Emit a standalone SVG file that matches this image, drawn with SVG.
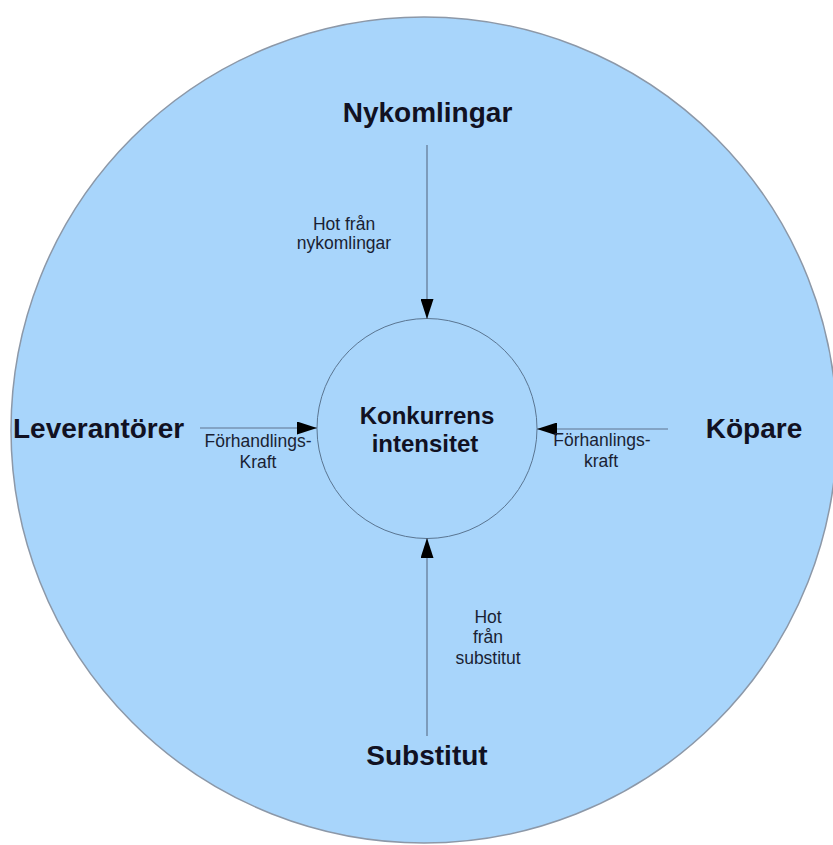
<svg xmlns="http://www.w3.org/2000/svg" width="833" height="845" viewBox="0 0 833 845">
<style>
.big{font-family:"Liberation Sans",Arial,sans-serif;font-weight:bold;font-size:28px;fill:#111122}
.mid{font-family:"Liberation Sans",Arial,sans-serif;font-weight:bold;font-size:24px;fill:#111122;text-anchor:middle}
.sm{font-family:"Liberation Sans",Arial,sans-serif;font-size:17.5px;fill:#1a1f33;text-anchor:middle}
.con{stroke:#5f7590;stroke-width:1.2;fill:none;marker-end:url(#ah)}
</style>
<defs>
<marker id="ah" markerWidth="20" markerHeight="13" refX="20" refY="6.5" viewBox="0 0 20 13" markerUnits="userSpaceOnUse" orient="auto">
<path d="M0,0 L20,6.5 L0,13 Z" fill="#000"/>
</marker>
</defs>
<rect width="833" height="845" fill="#fff"/>
<g id="outer"><circle cx="424" cy="430" r="413" fill="#a8d5fb" stroke="#8c98a8" stroke-width="1.5"/></g>
<g id="center"><circle cx="427" cy="428.5" r="110" fill="#a8d5fb" stroke="#5a7591" stroke-width="1"/>
<text class="mid" x="427" y="424">Konkurrens</text><text class="mid" x="425" y="452">intensitet</text></g>
<g id="nykomlingar"><text class="big" x="427.5" y="122" text-anchor="middle">Nykomlingar</text></g>
<g id="leverantorer"><text class="big" x="13" y="438">Leverantörer</text></g>
<g id="kopare"><text class="big" x="754" y="438" text-anchor="middle">Köpare</text></g>
<g id="substitut"><text class="big" x="427" y="765" text-anchor="middle">Substitut</text></g>
<g id="connectors">
<line class="con" x1="427" y1="145" x2="427" y2="319"/>
<line class="con" x1="427" y1="736" x2="427" y2="538"/>
<line class="con" x1="200" y1="428" x2="317" y2="428"/>
<line class="con" x1="668" y1="429" x2="537" y2="429"/>
<text class="sm" x="344" y="230">Hot från</text><text class="sm" x="344" y="249">nykomlingar</text>
<text class="sm" x="258" y="447">Förhandlings-</text><text class="sm" x="258" y="468">Kraft</text>
<text class="sm" x="602" y="446">Förhanlings-</text><text class="sm" x="601" y="467">kraft</text>
<text class="sm" x="488" y="623">Hot</text><text class="sm" x="488" y="643">från</text><text class="sm" x="488" y="664">substitut</text>
</g>
</svg>
